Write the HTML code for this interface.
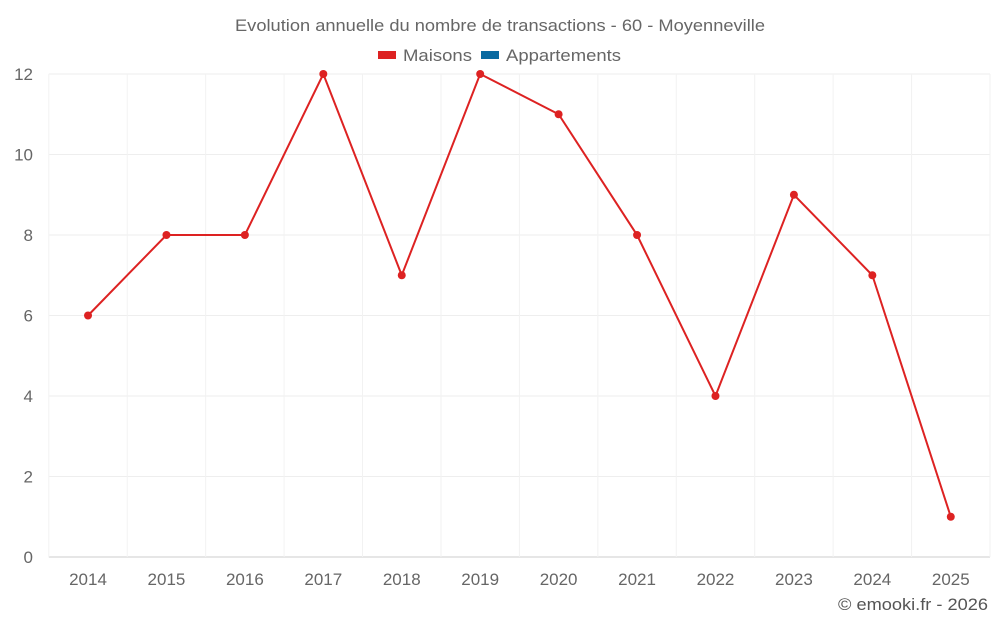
<!DOCTYPE html>
<html><head><meta charset="utf-8"><style>
body{margin:0;background:#fff;font-family:"Liberation Sans",sans-serif;}
svg text{font-family:"Liberation Sans",sans-serif;}
</style></head><body>
<svg id="chart" width="1000" height="625">
<text x="235" y="31" textLength="530" lengthAdjust="spacingAndGlyphs" font-size="17" fill="#666">Evolution annuelle du nombre de transactions - 60 - Moyenneville</text>
<g><rect x="378" y="51" width="18" height="8" fill="#dd2222"/><text x="403" y="61" textLength="69" lengthAdjust="spacingAndGlyphs" font-size="17" fill="#666">Maisons</text></g>
<g><rect x="481" y="51" width="18" height="8" fill="#0a6aa1"/><text x="506" y="61" textLength="115" lengthAdjust="spacingAndGlyphs" font-size="17" fill="#666">Appartements</text></g>
<text x="838" y="610" textLength="150" lengthAdjust="spacingAndGlyphs" font-size="17" fill="#555">© emooki.fr - 2026</text>
<g id="grid"></g><g id="axes"></g><g id="series"></g>
</svg>
<script>
const categories=["2014","2015","2016","2017","2018","2019","2020","2021","2022","2023","2024","2025"];
const maisons=[6,8,8,12,7,12,11,8,4,9,7,1];
const yTicks=[0,2,4,6,8,10,12];
const NS="http://www.w3.org/2000/svg";
const L=48.8,R=990,T=74,B=557,yMax=12;
const bw=(R-L)/categories.length;
const x=i=>L+bw*(i+0.5);
const y=v=>B-(v/yMax)*(B-T);
function mk(tag,attrs,parent,txt){const e=document.createElementNS(NS,tag);for(const k in attrs)e.setAttribute(k,attrs[k]);if(txt!==undefined)e.textContent=txt;parent.appendChild(e);return e;}
const grid=document.getElementById('grid'),axes=document.getElementById('axes'),series=document.getElementById('series');
yTicks.forEach(t=>{
 const l=mk('line',{x1:L,x2:R,y1:y(t),y2:y(t),stroke:t===0?'#ccc':'#eeeeee','stroke-width':1},grid);
 
 
 const tx=mk('text',{x:33,y:y(t)+6,'text-anchor':'end','font-size':17,fill:'#666'},axes,String(t));
 
 
});
for(let i=0;i<=categories.length;i++){
 const l=mk('line',{x1:L+bw*i,x2:L+bw*i,y1:T,y2:B,stroke:'#f2f2f2','stroke-width':1},grid);
 
 
}
categories.forEach((c,i)=>{
 const tx=mk('text',{x:x(i),y:585,'text-anchor':'middle','font-size':17,fill:'#666'},axes,c);
 
 
});
const p=mk('polyline',{points:maisons.map((v,i)=>x(i)+','+y(v)).join(' '),fill:'none',stroke:'#dd2222','stroke-width':2},series);


maisons.forEach((v,i)=>{
 const c=mk('circle',{cx:x(i),cy:y(v),r:4,fill:'#dd2222'},series);
 
 
});
</script>
</body></html>
